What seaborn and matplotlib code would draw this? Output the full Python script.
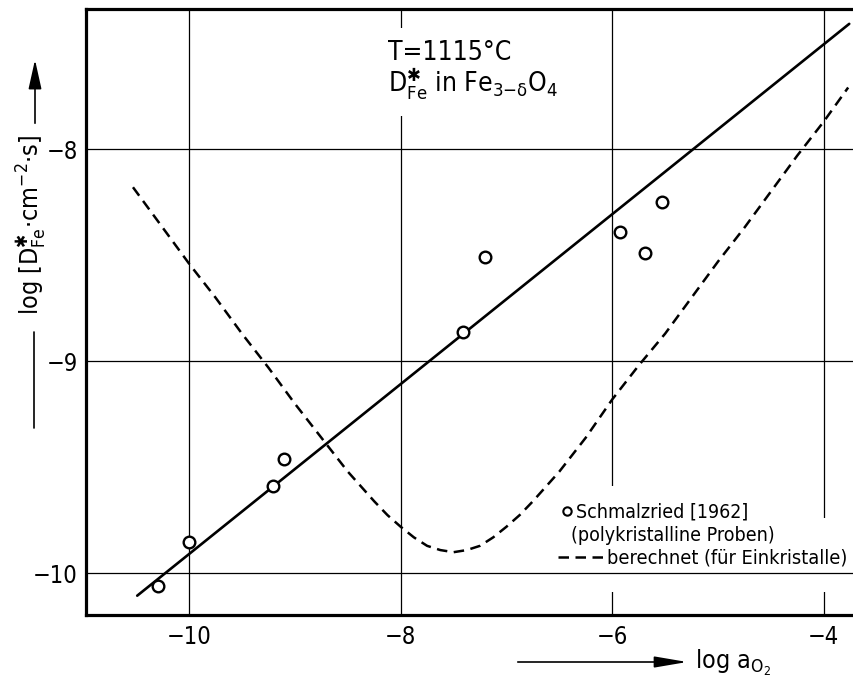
import numpy as np
import pandas as pd
import matplotlib
matplotlib.use("Agg")
import matplotlib.pyplot as plt
from matplotlib import font_manager
from matplotlib.patches import Rectangle, FancyArrowPatch
from matplotlib.lines import Line2D
import seaborn as sns

# measured tracer diffusion (Schmalzried 1962, polycrystalline samples)
meas_log_a = [-10.29, -10.00, -9.21, -9.10, -7.41, -7.20, -5.93, -5.69, -5.53]
meas_log_d = [-10.06, -9.85, -9.59, -9.46, -8.86, -8.51, -8.39, -8.49, -8.25]

# straight line through the measurements
fit_log_a = [-10.49, -3.76]
fit_log_d = [-10.105, -7.41]

# calculated curve for single crystals
calc_log_a = [-10.53, -10.25, -10.00, -9.75, -9.50, -9.25, -9.00, -8.75, -8.50,
              -8.375, -8.25, -8.125, -8.00, -7.875, -7.75, -7.625, -7.50, -7.375,
              -7.25, -7.125, -7.00, -6.875, -6.75, -6.625, -6.50, -6.25,
              -6.00, -5.75, -5.50, -5.25, -5.00, -4.75, -4.50, -4.25, -4.00, -3.77]
calc_log_d = [-8.18, -8.37, -8.54, -8.70, -8.87, -9.03, -9.20, -9.36, -9.52,
              -9.59, -9.66, -9.725, -9.78, -9.83, -9.87, -9.89, -9.90, -9.89,
              -9.87, -9.83, -9.78, -9.725, -9.66, -9.59, -9.52, -9.36,
              -9.18, -9.02, -8.87, -8.70, -8.53, -8.37, -8.20, -8.03, -7.87, -7.71]

x_ticks = [-10, -8, -6, -4]
y_ticks = [-10, -9, -8]

sns.set_style("white")
names = {f.name for f in font_manager.fontManager.ttflist}
if "Liberation Sans Narrow" in names:
    FAM = "Liberation Sans Narrow"
    plt.rcParams["font.stretch"] = "normal"
else:
    FAM = "DejaVu Sans"
    plt.rcParams["font.stretch"] = "condensed"
plt.rcParams["font.family"] = [FAM, "DejaVu Sans"]
plt.rcParams["mathtext.fontset"] = "custom"
plt.rcParams["mathtext.rm"] = FAM
plt.rcParams["mathtext.it"] = FAM + ":italic"
plt.rcParams["mathtext.bf"] = FAM + ":bold"
plt.rcParams["mathtext.sf"] = FAM
for key in ("text.color", "axes.labelcolor", "xtick.color", "ytick.color", "axes.edgecolor"):
    plt.rcParams[key] = "black"

W, H = 854, 677
fig = plt.figure(figsize=(W / 100, H / 100), dpi=100)
AX_L, AX_R, AX_T, AX_B = 86, 854, 9, 615
ax = fig.add_axes([AX_L / W, (H - AX_B) / H, (AX_R - AX_L) / W, (AX_B - AX_T) / H])
ax.set_xlim(-10.974, -3.715)
ax.set_ylim(-10.196, -7.34)


def axfrac(px, py):
    return ((px - AX_L) / (AX_R - AX_L), (AX_B - py) / (AX_B - AX_T))


def figfrac(px, py):
    return (px / W, 1 - py / H)


# frame
for s in ("left", "top", "bottom"):
    ax.spines[s].set_linewidth(2.3)
    ax.spines[s].set_color("black")
ax.spines["right"].set_visible(False)

ax.set_xticks(x_ticks)
ax.set_yticks(y_ticks)
ax.tick_params(length=0, labelsize=17, colors="black")
ax.tick_params(axis="x", pad=7)
ax.tick_params(axis="y", pad=6)
ax.set_axisbelow(True)
ax.grid(axis="x", color="black", lw=0.9)
for yv in y_ticks:
    ax.axhline(yv, color="black", lw=0.9, zorder=2.6)

# white backgrounds behind the annotations
for (x0, y0, x1, y1) in [(380, 28, 572, 116), (556, 486, 700, 519), (556, 518, 854, 592)]:
    a0 = axfrac(x0, y1)
    a1 = axfrac(x1, y0)
    ax.add_patch(Rectangle(a0, a1[0] - a0[0], a1[1] - a0[1], transform=ax.transAxes,
                           facecolor="white", edgecolor="none", zorder=2.5))

sns.lineplot(x=fit_log_a, y=fit_log_d, ax=ax, color="black", lw=1.9, zorder=2.2)
sns.lineplot(x=calc_log_a, y=calc_log_d, ax=ax, color="black", lw=1.8,
             linestyle=(0, (4.2, 2.6)), sort=False, estimator=None, zorder=2.2)
sns.scatterplot(x=meas_log_a, y=meas_log_d, ax=ax, marker="o", s=70,
                facecolor="white", edgecolor="black", linewidth=1.7, zorder=3)

STAR = r"\mathrm{✱}"
# condition text
ax.text(*axfrac(388, 60), "T=1115°C", transform=ax.transAxes, fontsize=19,
        ha="left", va="baseline", zorder=3)
ax.text(*axfrac(388, 92), r"$\mathrm{D}^{" + STAR + r"}_{\mathrm{Fe}}$ in Fe$_{3\mathrm{-δ}}$O$_4$",
        transform=ax.transAxes, fontsize=19, ha="left", va="baseline", zorder=3)

# key
ax.plot(*axfrac(567, 511), marker="o", ms=6, mfc="white", mec="black", mew=1.5,
        transform=ax.transAxes, zorder=3, clip_on=False)
ax.text(*axfrac(576, 518), "Schmalzried [1962]", transform=ax.transAxes,
        fontsize=14, ha="left", va="baseline", zorder=3)
ax.text(*axfrac(571, 541), "(polykristalline Proben)", transform=ax.transAxes,
        fontsize=14, ha="left", va="baseline", zorder=3)
kx0, ky = axfrac(558, 557)
kx1, _ = axfrac(603, 557)
ax.plot([kx0, kx1], [ky, ky], color="black", lw=1.8, linestyle=(0, (4.2, 2.6)),
        transform=ax.transAxes, zorder=3)
ax.text(*axfrac(607, 563), "berechnet (für Einkristalle)", transform=ax.transAxes,
        fontsize=14.3, ha="left", va="baseline", zorder=3)

# y axis label with leading rule and arrow
fig.add_artist(Line2D([34 / W, 34 / W], [1 - 332 / H, 1 - 428 / H], color="black",
                      lw=1.2, transform=fig.transFigure))
fig.text(*figfrac(31, 225), r"log [$\mathrm{D}^{" + STAR + r"}_{\mathrm{Fe}}$·cm$^{-2}$·s]",
         rotation=90, fontsize=18, ha="center", va="center")
fig.add_artist(FancyArrowPatch(figfrac(35, 126), figfrac(35, 57), transform=fig.transFigure,
                               arrowstyle="-|>,head_length=0.9,head_width=0.2",
                               mutation_scale=20, color="black", lw=1.2))

# x axis label with arrow
fig.add_artist(FancyArrowPatch(figfrac(515, 662), figfrac(690, 662), transform=fig.transFigure,
                               arrowstyle="-|>,head_length=1.0,head_width=0.17",
                               mutation_scale=20, color="black", lw=1.2))
fig.text(*figfrac(695, 669), r"log a$_{\mathrm{O}_2}$", fontsize=18, ha="left", va="baseline")

fig.savefig("out.png", dpi=100, facecolor="white")
